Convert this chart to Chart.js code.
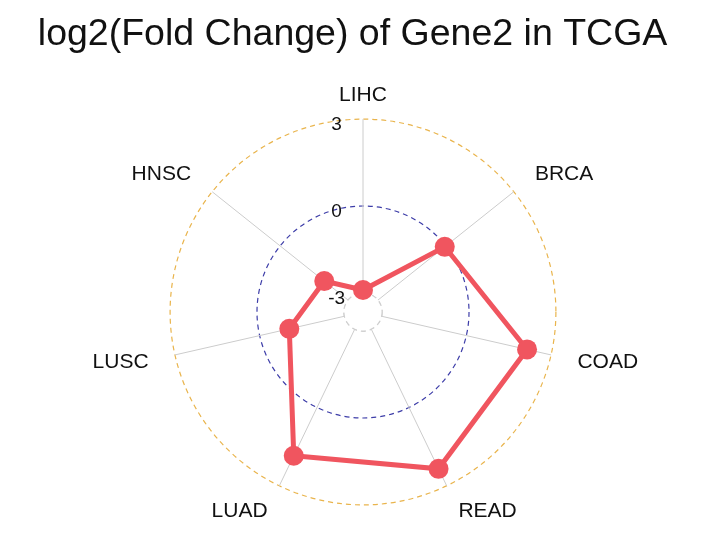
<!DOCTYPE html>
<html lang="en">
<head>
    <title>Gene2 radar</title>
    <script src="https://cdn.jsdelivr.net/npm/chart.js@4.4.1/dist/chart.umd.min.js"></script>
    <style>
        html, body { margin: 0; padding: 0; background: #fff; }
        #wrap { width: 720px; height: 554px; }
    </style>
</head>
<body>
<div id="wrap">
    <canvas id="radarChart"></canvas>
</div>
<script>
// cancer types, clockwise from the top
const cancerTypes = ["LIHC", "BRCA", "COAD", "READ", "LUAD", "LUSC", "HNSC"];
// log2 fold change
const log2FC = [-2.9, -0.05, 2.15, 2.35, 1.85, -1.05, -1.95];
// grid rings and their labels
const ringValues = [-3, 0, 3];
const ringColors = ["#cfcfcf", "#3d3da8", "#e9b44c"];
const axisMin = -3.66;
const axisMax = 3;

const FONT = "'Liberation Sans', Arial, sans-serif";

// paints the hole in the middle (inside the -3 ring) so spokes start at the ring
const innerHole = {
  id: "innerHole",
  beforeDatasetsDraw(chart) {
    const r = chart.scales.r;
    const rad = r.getDistanceFromCenterForValue(ringValues[0]);
    const ctx = chart.ctx;
    ctx.save();
    ctx.beginPath();
    ctx.arc(r.xCenter, r.yCenter, rad, 0, Math.PI * 2);
    ctx.fillStyle = "#fff";
    ctx.fill();
    ctx.setLineDash([5, 4]);
    ctx.strokeStyle = ringColors[0];
    ctx.lineWidth = 1.2;
    ctx.stroke();
    ctx.restore();
  }
};

let radarCtx = document.getElementById("radarChart").getContext("2d");
let radarChart = new Chart(radarCtx, {
  type: "radar",
  data: {
    labels: cancerTypes,
    datasets: [{
      data: log2FC,
      borderColor: "#f0555f",
      backgroundColor: "rgba(0,0,0,0)",
      borderWidth: 5,
      pointRadius: 10,
      pointBackgroundColor: "#f0555f",
      pointBorderColor: "#f0555f",
      pointBorderWidth: 0,
      fill: false
    }]
  },
  plugins: [innerHole],
  options: {
    responsive: true,
    maintainAspectRatio: false,
    animation: false,
    layout: {
      padding: { left: 26, right: 20, top: 12, bottom: 30 }
    },
    plugins: {
      legend: { display: false },
      tooltip: { enabled: false },
      title: {
        display: true,
        // trailing spaces nudge the centred title a bit to the left
        text: "log2(Fold Change) of Gene2 in TCGA\u00a0\u00a0",
        color: "#111",
        font: { family: FONT, size: 37.5, weight: "normal" },
        padding: { top: 0, bottom: 31 }
      }
    },
    scales: {
      r: {
        min: axisMin,
        max: axisMax,
        afterBuildTicks: (scale) => {
          scale.ticks = ringValues.map(v => ({ value: v }));
        },
        ticks: {
          color: "#111",
          showLabelBackdrop: false,
          font: { family: FONT, size: 19, lineHeight: 0.3 },
          // empty first line pushes the number just under the ring
          callback: (v) => ["", v + "\u00a0".repeat(10)]
        },
        grid: {
          circular: true,
          lineWidth: 1.2,
          color: (c) => ringColors[ringValues.indexOf(c.tick ? c.tick.value : NaN)] || "rgba(0,0,0,0)"
        },
        border: { dash: [5, 4] },
        angleLines: { color: "#cccccc", lineWidth: 1 },
        pointLabels: {
          color: "#111",
          padding: (c) => c.index === 0 ? 11.5 : 15.5,
          // tiny line height keeps each name centred on its anchor point
          font: { family: FONT, size: 21, lineHeight: 0.1 }
        }
      }
    }
  }
});
</script>
</body>
</html>
